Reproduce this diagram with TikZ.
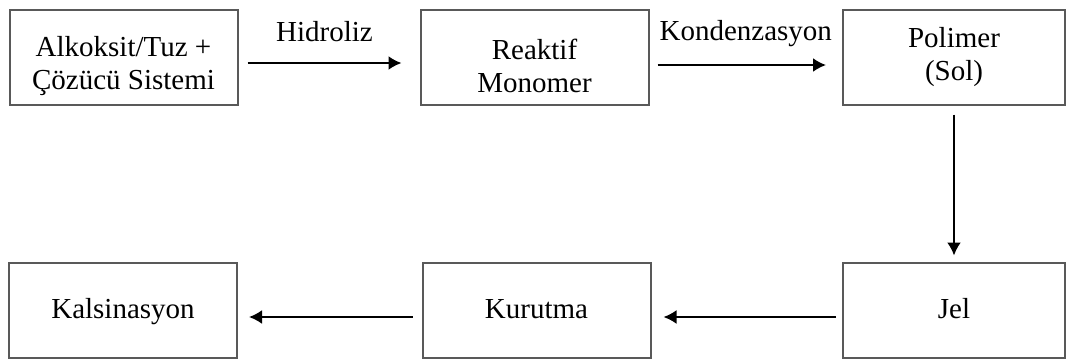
\documentclass[tikz,border=0pt]{standalone}
\usepackage{fontspec}
\setmainfont{Liberation Serif}
\usepackage{tikz}
\usetikzlibrary{arrows.meta}

\newcommand{\topstrut}{\rule{0pt}{19pt}}

\begin{document}
\begin{tikzpicture}[x=0.5pt, y=-0.5pt,
	stepbox/.style={draw=black!65, line width=1pt, minimum width=114pt, minimum height=47.5pt,
		align=center, inner sep=0pt, font=\fontsize{14.5}{16.5}\selectfont},
	oneline/.style={text height=8.5pt, text depth=0pt},
	flow/.style={line width=1pt, arrows={-{Latex[length=6.5pt, width=7pt]}}},
	flowlabel/.style={anchor=base, font=\fontsize{14.5}{16.5}\selectfont}]
	\useasboundingbox (0,0) rectangle (1067,361);
	% top row
	\node [stepbox] (alkoksit) at (123.5,57) {\topstrut Alkoksit/Tuz +\\Çözücü Sistemi};
	\node [stepbox] (reaktif) at (534.5,57) {\topstrut Reaktif\\Monomer};
	\node [stepbox, minimum width=111pt] (polimer) at (954,57) {Polimer\\(Sol)};
	% bottom row
	\node [stepbox, oneline, minimum width=111pt] (jel) at (954,310) {Jel};
	\node [stepbox, oneline] (kurutma) at (536.5,310) {Kurutma};
	\node [stepbox, oneline] (kalsinasyon) at (123,310) {Kalsinasyon};
	% arrows
	\draw [flow] ([xshift=4.5pt, yshift=-3pt]alkoksit.east) -- ([xshift=-9pt, yshift=-3pt]reaktif.west)
		node [flowlabel, midway, yshift=11pt] {Hidroliz};
	\draw [flow] ([xshift=4pt, yshift=-4pt]reaktif.east) -- ([xshift=-8pt, yshift=-4pt]polimer.west)
		node [flowlabel, midway, yshift=12.5pt, xshift=2pt] {Kondenzasyon};
	\draw [flow] ([yshift=-4.5pt]polimer.south) -- ([yshift=3pt]jel.north);
	\draw [flow] ([xshift=-3pt, yshift=-3.5pt]jel.west) -- ([xshift=6pt, yshift=-3.5pt]kurutma.east);
	\draw [flow] ([xshift=-4.5pt, yshift=-3.5pt]kurutma.west) -- ([xshift=5.5pt, yshift=-3.5pt]kalsinasyon.east);
\end{tikzpicture}
\end{document}
